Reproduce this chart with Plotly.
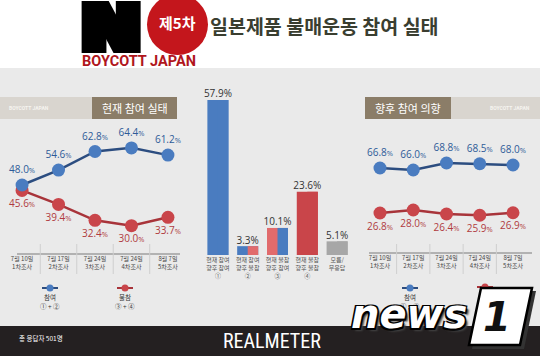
import plotly.graph_objects as go

W, H = 540, 356
def fx(p): return p / W
def fy(p): return 1 - p / H

# ---------------- data ----------------
surveys = ["7월 10일<br>1차조사", "7월 17일<br>2차조사", "7월 24일<br>3차조사", "7월 24일<br>4차조사", "8월 7일<br>5차조사"]
current_join = [48.0, 54.6, 62.8, 64.4, 61.2]
current_not = [45.6, 39.4, 32.4, 30.0, 33.7]
future_join = [66.8, 66.0, 68.8, 68.5, 68.0]
future_not = [26.8, 28.0, 26.4, 25.9, 26.9]
bar_cats = ["현재 참여<br>향후 참여<br>①", "현재 참여<br>향후 불참<br>②", "현재 불참<br>향후 참여<br>③",
            "현재 불참<br>향후 불참<br>④", "모름/<br>무응답"]
bar_vals = [57.9, 3.3, 10.1, 23.6, 5.1]

BLUE = "#4a7cc0"; BLUE_LINE = "#2c4d80"; BLUE_TXT = "#2e5b98"
RED = "#c9454a"; RED_LINE = "#a8343a"; RED_TXT = "#b03b40"
LRED = "#e16b6c"; GRAY = "#a7a7a7"
KR = "Noto Sans CJK KR"
NUM = "Open Sans"

def pct(v):
    return f"{v:.1f}<span style='font-size:7.5px'>%</span>"

fig = go.Figure()

def line(x, y, xa, ya, lc, mc, tc, pos):
    fig.add_trace(go.Scatter(
        x=x, y=y, xaxis=xa, yaxis=ya, mode="lines+markers+text",
        line=dict(color=lc, width=2.5), marker=dict(size=13, color=mc),
        text=[pct(v) for v in y], textposition=pos,
        textfont=dict(family=NUM, size=10, color=tc), cliponaxis=False, hoverinfo="skip"))

# left chart: current participation
line(surveys, current_not, "x", "y", RED_LINE, RED, RED_TXT, "bottom center")
line(surveys, current_join, "x", "y", BLUE_LINE, BLUE, BLUE_TXT, "top center")
# right chart: future intention
line(surveys, future_not, "x2", "y3", RED_LINE, RED, RED_TXT, "bottom center")
line(surveys, future_join, "x2", "y2", BLUE_LINE, BLUE, BLUE_TXT, "top center")

# middle bars: full bar in left colour, right half overlaid in right colour
left_colors = [BLUE, BLUE, LRED, RED, GRAY]
right_colors = [BLUE, LRED, BLUE, RED, GRAY]
fig.add_trace(go.Bar(x=bar_cats, y=bar_vals, xaxis="x3", yaxis="y4", width=0.706,
                     marker=dict(color=left_colors, line=dict(width=0)), hoverinfo="skip"))
fig.add_trace(go.Bar(x=bar_cats, y=bar_vals, xaxis="x3", yaxis="y4", width=0.353, offset=0,
                     marker=dict(color=right_colors, line=dict(width=0)), hoverinfo="skip"))
fig.add_trace(go.Scatter(x=bar_cats, y=bar_vals, xaxis="x3", yaxis="y4", mode="text",
                         text=[f"{v:.1f}%" for v in bar_vals], textposition="top center",
                         textfont=dict(family=NUM, size=10, color="#333333"), cliponaxis=False,
                         hoverinfo="skip"))

shapes = []
annos = []

def rect(x0, y0, x1, y1, color, layer="below", line=None):
    shapes.append(dict(type="rect", xref="paper", yref="paper", x0=fx(x0), x1=fx(x1), y0=fy(y1), y1=fy(y0),
                       fillcolor=color, line=line or dict(width=0), layer=layer))

def seg(x0, y0, x1, y1, color, width, layer="below"):
    shapes.append(dict(type="line", xref="paper", yref="paper", x0=fx(x0), x1=fx(x1), y0=fy(y0), y1=fy(y1),
                       line=dict(color=color, width=width), layer=layer))

def txt(x, y, s, size, color, family=KR, xanchor="center", weight=None, style=None, shadow=None):
    f = dict(family=family, size=size, color=color)
    if weight: f["weight"] = weight
    if style: f["style"] = style
    if shadow: f["shadow"] = shadow
    annos.append(dict(x=fx(x), y=fy(y), xref="paper", yref="paper", text=s, showarrow=False,
                      font=f, xanchor=xanchor, yanchor="middle"))

# backgrounds
rect(0, 68, 540, 326, "#eaeaea")
rect(0, 326, 540, 356, "#242021")

# header logo
thick = "2px 0 0 #000, -2px 0 0 #000, 4px 0 0 #000, -4px 0 0 #000, 6px 0 0 #000, -6px 0 0 #000"
txt(111, 28, "N", 72, "#000000", family="DejaVu Sans", weight="bold", shadow=thick)
shapes.append(dict(type="circle", xref="paper", yref="paper", x0=fx(147), x1=fx(208), y0=fy(55), y1=fy(-6),
                   fillcolor="#c4161c", line=dict(width=0), layer="below"))
txt(177, 23, "제5차", 15, "white", weight="bold")
txt(139, 62, "BOYCOTT JAPAN", 14.5, "#b0161c", family="Roboto", weight="bold")
txt(208, 25, "일본제품 불매운동 참여 실태", 19.5, "#3a3e30", xanchor="left", weight="bold")

# section headers
rect(0, 97, 92, 119, "#d9d5cf")
rect(92, 97, 177, 119, "#8b7d68")
txt(29, 108, "BOYCOTT JAPAN", 5, "#f6f4f0", family="Roboto", weight="bold")
txt(134.5, 108, "현재 참여 실태", 11, "white")
rect(365, 97, 451, 119, "#8b7d68")
rect(451, 97, 540, 119, "#d9d5cf")
txt(408, 108, "향후 참여 의향", 11, "white")
txt(510, 108, "BOYCOTT JAPAN", 5, "#f6f4f0", family="Roboto", weight="bold")

# axis lines and dividers
seg(17, 254, 180, 254, "#7a7a7a", 1.2)
seg(369, 253, 532, 253, "#7a7a7a", 1.2)
for i in range(4):
    for xa in ("x", "x2"):
        shapes.append(dict(type="line", xref=xa, yref="paper", x0=i + 0.5, x1=i + 0.5, y0=fy(274), y1=fy(244),
                           line=dict(color="#cfcfcf", width=1), layer="below"))

# legends
def legend_item(x, y, lc, mc, label, sub):
    seg(x - 8, y, x + 8, y, lc, 2, layer="above")
    shapes.append(dict(type="circle", xref="paper", yref="paper", x0=fx(x - 3.5), x1=fx(x + 3.5),
                       y0=fy(y + 3.5), y1=fy(y - 3.5), fillcolor=mc, line=dict(width=0), layer="above"))
    if label:
        txt(x, y + 9, label, 6.5, "#333333")
    if sub:
        txt(x, y + 18, sub, 6.5, "#333333")

legend_item(50, 288, BLUE_LINE, BLUE, "참여", "① + ②")
legend_item(125, 288, RED_LINE, RED, "불참", "③ + ④")
legend_item(410, 288, BLUE_LINE, BLUE, "참여", "① + ②")
legend_item(485, 287, RED_LINE, RED, None, None)

# footer
txt(17, 338, "총 응답자 501명", 6.5, "white", xanchor="left")
txt(272, 341, "REALMETER", 20, "white", family="Roboto Condensed, Liberation Sans Narrow, DejaVu Sans Condensed, Roboto")

# news1 watermark
outline = "1.5px 1.5px 0 #000, -1.5px -1.5px 0 #000, 1.5px -1.5px 0 #000, -1.5px 1.5px 0 #000, 3px 3px 2px #444"
txt(409, 314, "news", 40, "white", family="DejaVu Sans", weight="bold", style="italic", shadow=outline)
def pth(pts):
    return "M " + " L ".join(f"{fx(a)},{fy(b)}" for a, b in pts) + " Z"
shapes.append(dict(type="path", xref="paper", yref="paper", path=pth([(484, 291), (536, 291), (524, 349), (472, 349)]),
                   fillcolor="#333333", line=dict(width=0), layer="above"))
shapes.append(dict(type="path", xref="paper", yref="paper", path=pth([(481, 288), (532, 288), (520, 345), (469, 345)]),
                   fillcolor="white", line=dict(color="black", width=2.5), layer="above"))
txt(497, 317, "1", 40, "#111111", family="DejaVu Sans", weight="bold", style="italic")

axis_common = dict(type="category", showgrid=False, zeroline=False, showline=False, ticks="",
                   fixedrange=True)
fig.update_layout(
    width=W, height=H, autosize=False, margin=dict(l=0, r=0, t=0, b=0),
    paper_bgcolor="white", plot_bgcolor="rgba(0,0,0,0)", showlegend=False, barmode="overlay",
    xaxis=dict(axis_common, domain=[fx(2), fx(188)], anchor="y", range=[-0.55, 4.55],
               tickfont=dict(family=KR, size=6, color="#444444")),
    yaxis=dict(domain=[fy(254), fy(130)], anchor="x", range=[17.5, 72.3], visible=False),
    xaxis2=dict(axis_common, domain=[fx(361.7), fx(531.3)], anchor="y3", range=[-0.55, 4.55],
                tickfont=dict(family=KR, size=6, color="#444444")),
    yaxis2=dict(domain=[fy(195), fy(140)], anchor="x2", range=[56, 78], visible=False),
    yaxis3=dict(domain=[fy(253), fy(196)], anchor="x2", range=[10.8, 33.6], visible=False),
    xaxis3=dict(axis_common, domain=[fx(203), fx(352)], anchor="y4", range=[-0.5, 4.5],
                tickfont=dict(family=KR, size=6, color="#555555")),
    yaxis4=dict(domain=[fy(255), fy(90)], anchor="x3", range=[0, 61.6], visible=False),
    shapes=shapes, annotations=annos,
)
fig.write_html("out.html", config={"displayModeBar": False},
               post_script="document.body.style.margin='0';document.body.style.overflow='hidden';")
